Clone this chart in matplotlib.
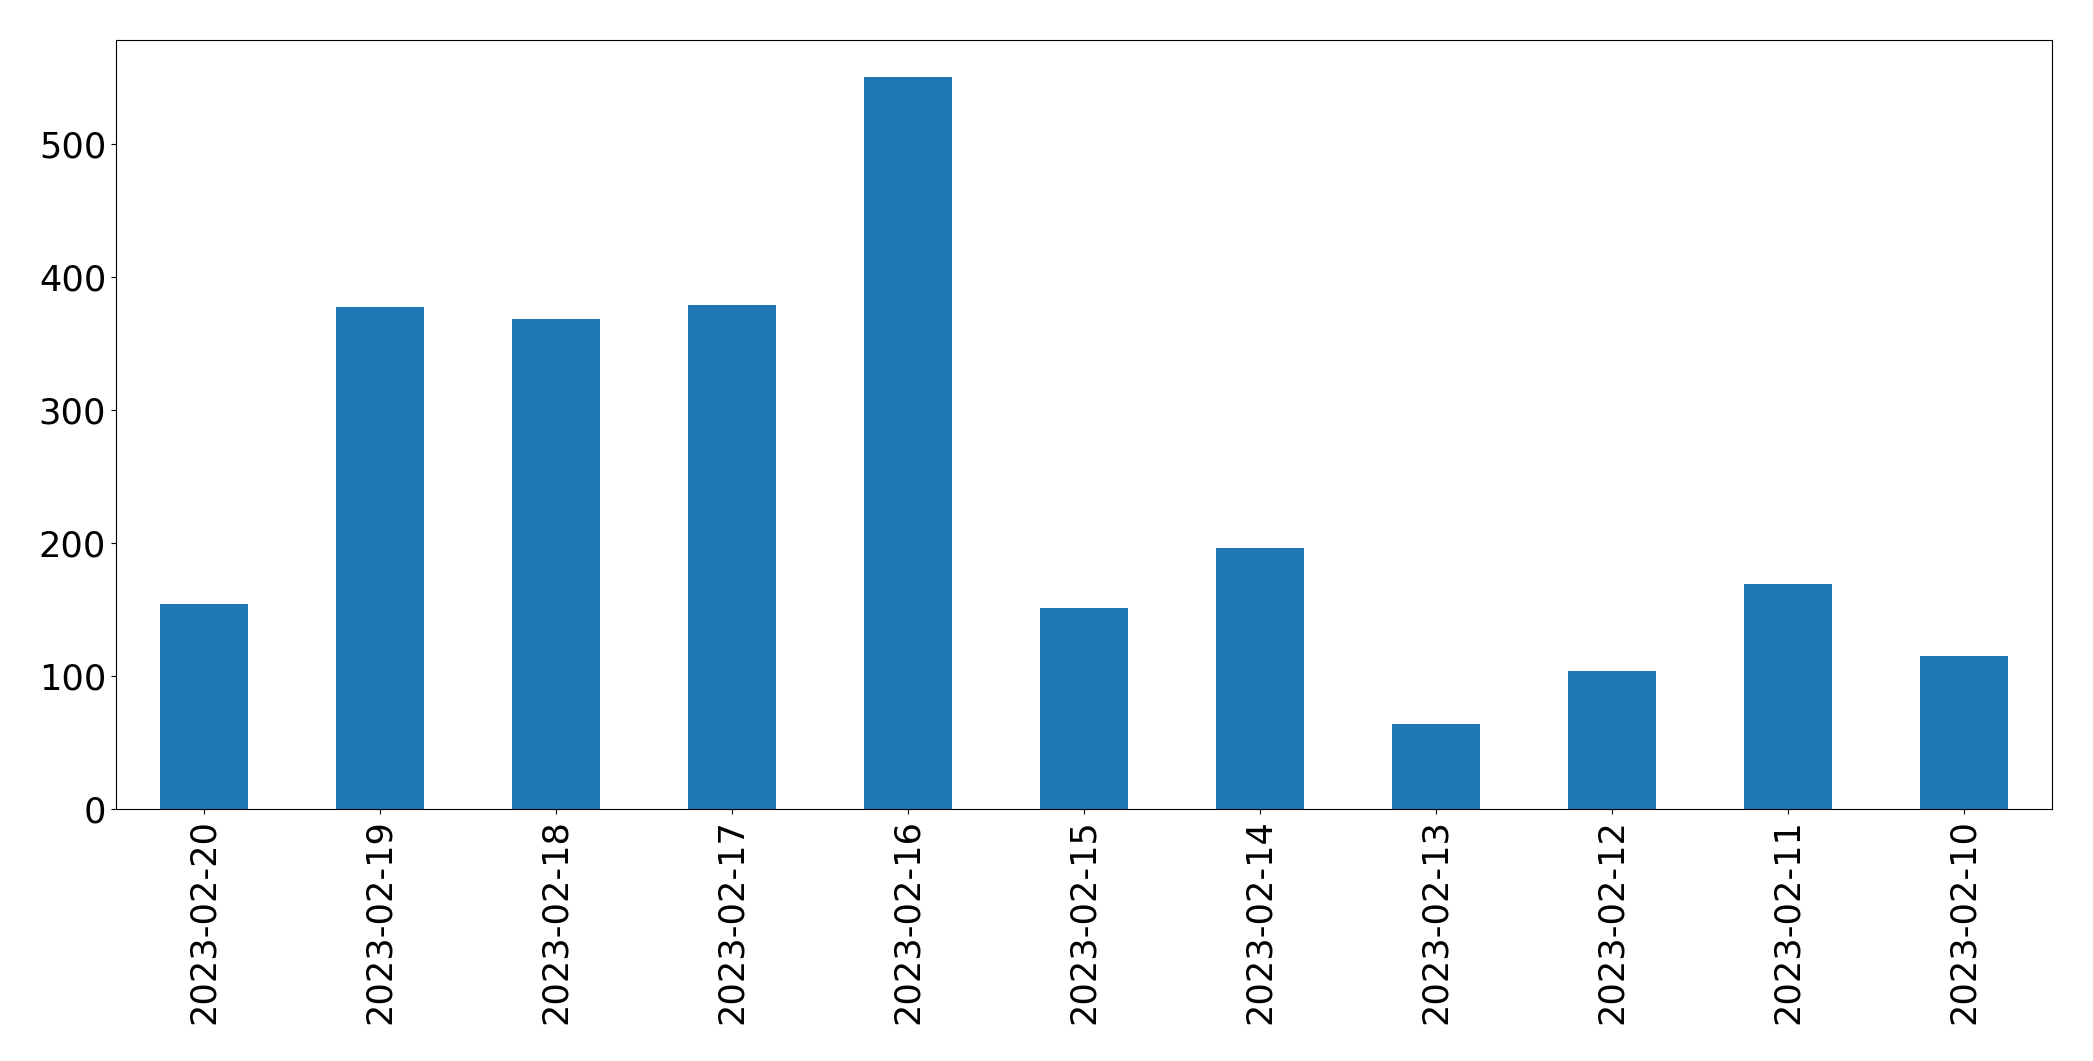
import matplotlib
matplotlib.use('Agg')
import matplotlib.pyplot as plt
import numpy as np

dates = ['2023-02-20', '2023-02-19', '2023-02-18', '2023-02-17', '2023-02-16', '2023-02-15',
         '2023-02-14', '2023-02-13', '2023-02-12', '2023-02-11', '2023-02-10']
counts = [154, 378, 369, 379, 551, 151, 196, 64, 104, 169, 115]

fig, ax = plt.subplots(figsize=(20.93, 10.61), dpi=100)
fig.subplots_adjust(left=0.0554, right=0.9804, top=0.9623, bottom=0.2375)

x = np.arange(len(dates))
ax.bar(x, counts, width=0.5, color='#1f77b4')
ax.set_xlim(-0.5, len(dates) - 0.5)
ax.set_xticks(x)
ax.set_xticklabels(dates, rotation=90)
ax.tick_params(labelsize=25.3)

plt.savefig('out.png')
